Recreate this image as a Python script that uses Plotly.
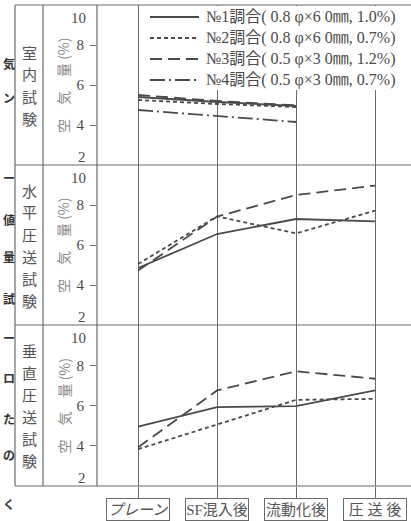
import plotly.graph_objects as go

W, H = 411, 521

# ---- data -------------------------------------------------------------
categories = ["プレーン", "SF混入後", "流動化後", "圧送後"]
category_labels = ["プレーン", "SF混入後", "流動化後", "圧 送 後"]
mix_names = [
    "№1調合( 0.8 φ×6 0㎜, 1.0%)",
    "№2調合( 0.8 φ×6 0㎜, 0.7%)",
    "№3調合( 0.5 φ×3 0㎜, 1.2%)",
    "№4調合( 0.5 φ×3 0㎜, 0.7%)",
]
test_names = ["室内試験", "水平圧送試験", "垂直圧送試験"]
y_title = "空　気　量 (%)"
y_tick_values = [2, 4, 6, 8, 10]

# body text of the neighbouring page column along the left edge
margin_text = ["気", "ン", "ー", "値", "量", "試", "ー", "ロ", "た", "の", "く"]
margin_text_y = [63, 97, 177, 220, 256, 298, 337, 377, 418, 454, 503]

# air content (%) - laboratory test
indoor_no1 = [5.40, 5.15, 4.95]
indoor_no2 = [5.25, 5.05, 4.90]
indoor_no3 = [5.50, 5.20, 4.98]
indoor_no4 = [4.75, 4.45, 4.15]
# air content (%) - horizontal pumping test
horiz_no1 = [4.85, 6.55, 7.30, 7.18]
horiz_no2 = [5.05, 7.43, 6.58, 7.72]
horiz_no3 = [4.72, 7.42, 8.50, 8.97]
# air content (%) - vertical pumping test
vert_no1 = [4.95, 5.92, 5.97, 6.75]
vert_no2 = [3.83, 5.07, 6.28, 6.33]
vert_no3 = [3.93, 6.75, 7.70, 7.33]

panels = [
    [indoor_no1, indoor_no2, indoor_no3, indoor_no4],
    [horiz_no1, horiz_no2, horiz_no3],
    [vert_no1, vert_no2, vert_no3],
]

# ---- styling ----------------------------------------------------------
INK = "#4a4a4a"
RULE = "#6a6a6a"
FONT = "Liberation Serif, Noto Sans CJK JP, serif"
CJK = "Noto Sans CJK JP, sans-serif"
dashes = ["solid", "4px,3px", "12px,6px", "15px,4px,2px,4px"]


def fx(p):
    return p / W


def fy(p):
    return 1 - p / H


panel_px = [(5, 165), (165, 325), (325, 486)]
x_left, x_mid, x_axis = 15, 43, 97
x_range = [-0.52, 3.455]

fig = go.Figure()

for i, series in enumerate(panels):
    ax = "" if i == 0 else str(i + 1)
    for j, vals in enumerate(series):
        fig.add_trace(go.Scatter(
            x=categories[:len(vals)], y=vals, mode="lines",
            line=dict(color=INK, width=1.8, dash=dashes[j]),
            xaxis="x" + ax, yaxis="y" + ax, showlegend=False,
            hoverinfo="skip",
        ))
    top, bot = panel_px[i]
    fig.layout["xaxis" + ax] = dict(
        type="category", categoryarray=categories, range=x_range,
        domain=[fx(x_axis), 1], anchor="y" + ax,
        showgrid=True, gridcolor=RULE, gridwidth=1,
        zeroline=False, showline=False, showticklabels=False,
        ticks="outside" if i == 2 else "", ticklen=12, tickcolor=RULE,
        tickwidth=1,
    )
    fig.layout["yaxis" + ax] = dict(
        range=[2, 10], domain=[fy(bot), fy(top)], anchor="x" + ax,
        showgrid=False, zeroline=False, showline=False,
        tickvals=y_tick_values[1:-1], ticks="outside", ticklen=6,
        tickcolor=RULE, tickwidth=1, ticklabelstandoff=3,
        tickfont=dict(family=FONT, size=15, color=INK),
    )

shapes = []
annotations = []

# legend background
shapes.append(dict(type="rect", xref="paper", yref="paper",
                   x0=fx(139), x1=fx(W + 2), y0=fy(90), y1=fy(6),
                   fillcolor="white", line=dict(width=0), layer="above"))

# table rules
for yp in [5, 165, 325, 486]:
    shapes.append(dict(type="line", xref="paper", yref="paper",
                       x0=fx(x_left), x1=fx(W + 2), y0=fy(yp), y1=fy(yp),
                       line=dict(color=RULE, width=1.2), layer="above"))
for xp in [x_left, x_mid, x_axis]:
    shapes.append(dict(type="line", xref="paper", yref="paper",
                       x0=fx(xp), x1=fx(xp), y0=fy(5), y1=fy(486),
                       line=dict(color=RULE, width=1.2), layer="above"))

# legend
for j, name in enumerate(mix_names):
    yp = 17 + j * 21
    shapes.append(dict(type="line", xref="paper", yref="paper",
                       x0=fx(150), x1=fx(199), y0=fy(yp), y1=fy(yp),
                       line=dict(color=INK, width=1.8, dash=dashes[j]),
                       layer="above"))
    annotations.append(dict(xref="paper", yref="paper", x=fx(204), y=fy(yp),
                            xanchor="left", yanchor="middle", showarrow=False,
                            text=name,
                            font=dict(family=FONT, size=16, color=INK)))

# row headings (one character per line) and axis titles
for i, name in enumerate(test_names):
    top, bot = panel_px[i]
    mid = (top + bot) / 2
    pitch = 22
    first = mid - pitch * (len(name) - 1) / 2
    for k, ch in enumerate(name):
        annotations.append(dict(xref="paper", yref="paper",
                                x=fx((x_left + x_mid) / 2), y=fy(first + k * pitch),
                                xanchor="center", yanchor="middle",
                                showarrow=False, text=ch,
                                font=dict(family=CJK, size=15, color="#555")))
    annotations.append(dict(xref="paper", yref="paper", x=fx(63), y=fy(mid),
                            xanchor="center", yanchor="middle", showarrow=False,
                            text=y_title, textangle=-90,
                            font=dict(family=CJK, size=14, color="#888888")))
    ax = "" if i == 0 else str(i + 1)
    annotations.append(dict(xref="paper", yref="y" + ax, x=fx(88),
                            y=y_tick_values[-1], yshift=-13,
                            xanchor="right", yanchor="middle", showarrow=False,
                            text=str(y_tick_values[-1]),
                            font=dict(family=FONT, size=15, color=INK)))
    annotations.append(dict(xref="paper", yref="y" + ax, x=fx(88),
                            y=y_tick_values[0], yshift=8,
                            xanchor="right", yanchor="middle", showarrow=False,
                            text=str(y_tick_values[0]),
                            font=dict(family=FONT, size=15, color=INK)))

# boxed category labels below the bottom panel
for cat, lab in zip(categories, category_labels):
    annotations.append(dict(xref="x3", yref="paper", x=cat, y=fy(509),
                            xanchor="center", yanchor="middle", showarrow=False,
                            text=lab, width=60, height=19, borderpad=1,
                            bordercolor=RULE, borderwidth=1, bgcolor="white",
                            font=dict(family=FONT, size=15, color="#555",
                                      style="italic" if cat == "プレーン" else "normal")))

# page text running along the left edge
for ch, yp in zip(margin_text, margin_text_y):
    annotations.append(dict(xref="paper", yref="paper", x=fx(1), y=fy(yp),
                            xanchor="left", yanchor="middle", showarrow=False,
                            text=ch,
                            font=dict(family=CJK, size=12, color="#333",
                                      weight="bold")))

fig.update_layout(
    width=W, height=H, margin=dict(l=0, r=0, t=0, b=0),
    paper_bgcolor="white", plot_bgcolor="white",
    shapes=shapes, annotations=annotations, showlegend=False,
)

fig.write_html("out.html")
